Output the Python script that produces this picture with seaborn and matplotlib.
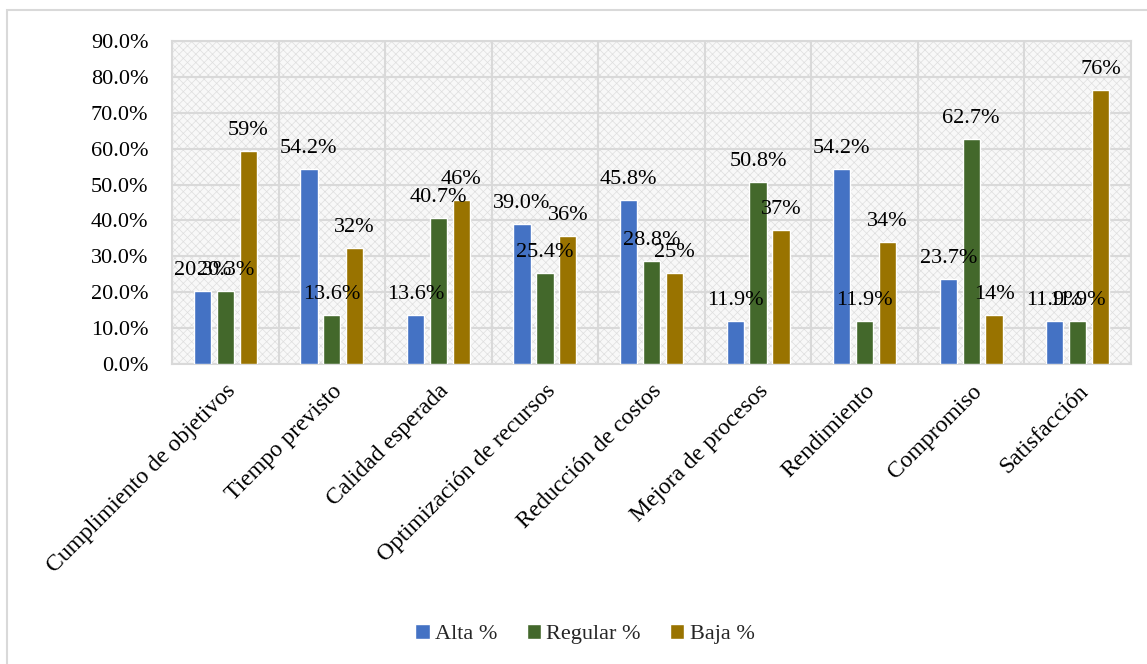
import matplotlib
matplotlib.use("Agg")
import matplotlib.pyplot as plt
from matplotlib.patches import Rectangle
from matplotlib.ticker import FuncFormatter, FixedLocator
import numpy as np
import pandas as pd
import seaborn as sns

# Survey results by dimension (percent of respondents)
categories = [
    "Cumplimiento de objetivos", "Tiempo previsto", "Calidad esperada",
    "Optimización de recursos", "Reducción de costos", "Mejora de procesos",
    "Rendimiento", "Compromiso", "Satisfacción",
]
series_names = ["Alta %", "Regular %", "Baja %"]
alta = [20.3, 54.2, 13.6, 39.0, 45.8, 11.9, 54.2, 23.7, 11.9]
regular = [20.3, 13.6, 40.7, 25.4, 28.8, 50.8, 11.9, 62.7, 11.9]
baja = [59.3, 32.2, 45.8, 35.6, 25.4, 37.3, 33.9, 13.6, 76.3]
y_ticks = [0, 10, 20, 30, 40, 50, 60, 70, 80, 90]

colors = ["#4472C4", "#43682B", "#997300"]
label_formats = ["{:.1f}%", "{:.1f}%", "{:.0f}%"]

df = pd.DataFrame({
    "categoria": categories * 3,
    "serie": np.repeat(series_names, len(categories)),
    "valor": alta + regular + baja,
})

sns.set_theme(style="white")
plt.rcParams["font.family"] = ["Liberation Serif", "DejaVu Serif"]
plt.rcParams["hatch.linewidth"] = 0.5

FS = 16
W, H = 1147, 664
fig = plt.figure(figsize=(W / 100, H / 100), dpi=100)
ax = fig.add_axes([172 / W, 1 - 364 / H, (1131 - 172) / W, (364 - 41) / H])

# textured plot-area background
ax.add_patch(Rectangle((0, 0), 1, 1, transform=ax.transAxes, facecolor="#f8f8f8",
                       edgecolor="#dedede", hatch="xxxx", linewidth=0, zorder=0))

sns.barplot(data=df, x="categoria", y="valor", hue="serie", order=categories,
            hue_order=series_names, palette=colors, width=0.645, gap=0.25,
            saturation=1, ax=ax, zorder=3)

for cont, fmt in zip(ax.containers, label_formats):
    ax.bar_label(cont, labels=[fmt.format(v) for v in cont.datavalues],
                 padding=8, fontsize=FS, color="black", zorder=5)

ax.set_ylim(0, 90)
ax.set_xlim(-0.5, len(categories) - 0.5)
ax.yaxis.set_major_locator(FixedLocator(y_ticks))
ax.yaxis.set_major_formatter(FuncFormatter(lambda v, p: f"{v:.1f}%"))
ax.xaxis.set_minor_locator(FixedLocator(np.arange(len(categories) + 1) - 0.5))
ax.grid(True, axis="y", which="major", color="#d9d9d9", linewidth=1.5, zorder=1)
ax.grid(True, axis="x", which="minor", color="#d9d9d9", linewidth=1.5, zorder=1)
ax.grid(False, axis="x", which="major")
ax.set_axisbelow(True)
for s in ax.spines.values():
    s.set_color("#d9d9d9")
    s.set_linewidth(1.5)

ax.set_xlabel("")
ax.set_ylabel("")
ax.tick_params(axis="y", length=0, pad=17, labelsize=FS, labelcolor="black")
ax.tick_params(axis="x", which="both", length=0, pad=12, labelsize=17, labelcolor="black")
ax.set_xticks(range(len(categories)))
ax.set_xticklabels(categories, rotation=45, ha="right", rotation_mode="anchor")

handles, labels = ax.get_legend_handles_labels()
ax.get_legend().remove()
fig.legend(handles, labels, loc="center", bbox_to_anchor=(585 / W, 1 - 634 / H),
           ncol=3, frameon=False, fontsize=FS, handlelength=0.65, handleheight=0.65,
           handletextpad=0.25, columnspacing=1.3)

# outer chart border
fig.patches.append(Rectangle((7 / W, 1 - 700 / H), 1.2, 690 / H, transform=fig.transFigure,
                             fill=False, edgecolor="#d9d9d9", linewidth=1.5))

fig.savefig("out.png", dpi=100)
